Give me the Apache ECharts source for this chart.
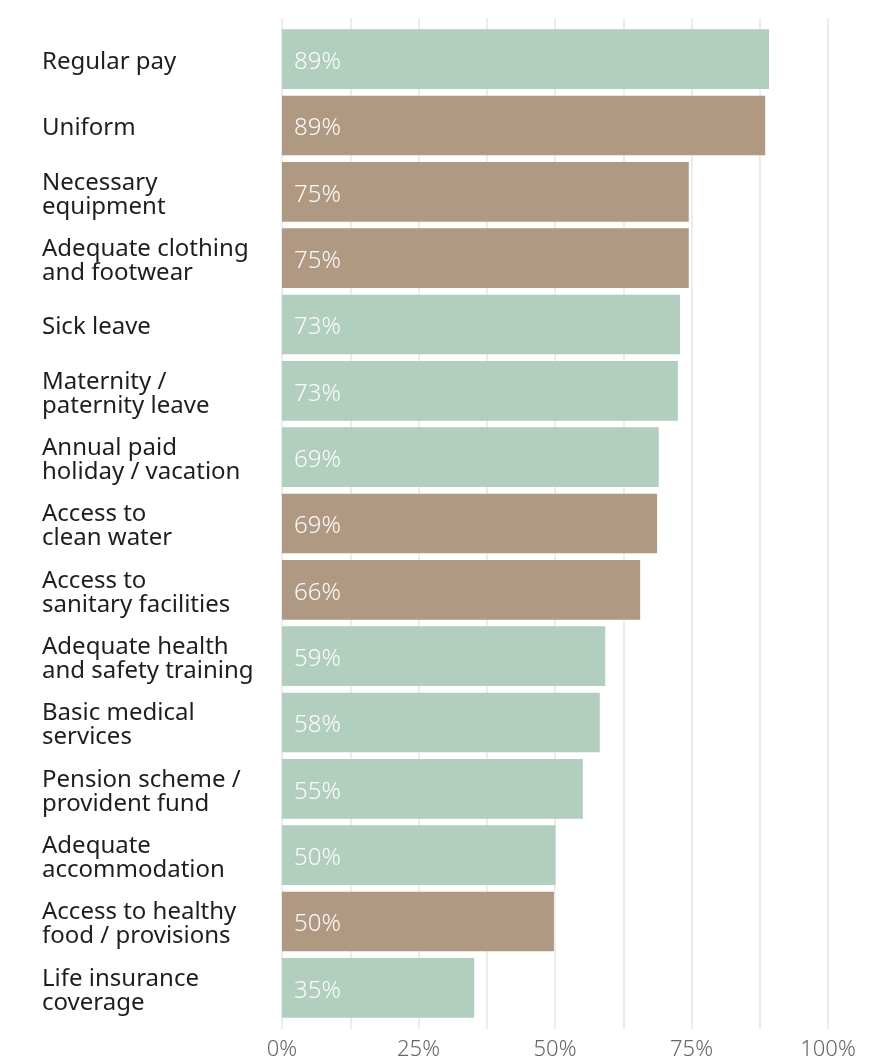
<!DOCTYPE html>
<html>
<head>
<meta charset="utf-8">
<script src="https://cdn.jsdelivr.net/npm/echarts@6/dist/echarts.min.js"></script>
<style>html,body{margin:0;padding:0;background:#fff;}#c{width:882px;height:1063px;}</style>
</head>
<body>
<div id="c"></div>
<script>
const categories = [
  "Regular pay", "Uniform", "Necessary\nequipment", "Adequate clothing\nand footwear",
  "Sick leave", "Maternity /\npaternity leave", "Annual paid\nholiday / vacation",
  "Access to\nclean water", "Access to\nsanitary facilities", "Adequate health\nand safety training",
  "Basic medical\nservices", "Pension scheme /\nprovident fund", "Adequate\naccommodation",
  "Access to healthy\nfood / provisions", "Life insurance\ncoverage"
];
const values = [89.2, 88.5, 74.5, 74.5, 72.9, 72.5, 69.0, 68.7, 65.6, 59.2, 58.2, 55.1, 50.1, 49.8, 35.2];
const groups = ["A", "B", "B", "B", "A", "A", "A", "B", "B", "A", "A", "A", "A", "B", "A"];
const tickLabels = ["0%", "25%", "50%", "75%", "100%"];

const colors = { A: "#b2cebe", B: "#b09982" };
const FONT = "Noto Sans";

const chart = echarts.init(document.getElementById("c"), null, { renderer: "canvas" });
chart.setOption({
  backgroundColor: "#fff",
  animation: false,
  textStyle: { fontFamily: FONT },
  grid: [
    { left: 282, right: 54, top: 26, bottom: 42 },
    { left: 282, right: 54, top: 18, bottom: 34 }
  ],
  xAxis: [
    {
      gridIndex: 0, type: "value", min: 0, max: 100, interval: 12.5,
      axisLine: { show: false }, axisTick: { show: false },
      axisLabel: { show: false }, splitLine: { show: false }
    },
    {
      gridIndex: 1, type: "value", min: 0, max: 100, interval: 12.5,
      axisLine: { show: false }, axisTick: { show: false },
      splitLine: { show: true, lineStyle: { color: "#ececec", width: 2 } },
      axisLabel: {
        margin: 10, color: "#666", fontSize: 22, fontWeight: 300, fontFamily: FONT,
        formatter: v => (v % 25 === 0 ? tickLabels[v / 25] : "")
      }
    }
  ],
  yAxis: [
    {
      gridIndex: 0, type: "category", inverse: true, data: categories,
      axisLine: { show: false }, axisTick: { show: false }, splitLine: { show: false },
      axisLabel: {
        align: "left", margin: 240, fontFamily: FONT,
        formatter: v => "{t|" + v.split("\n").join("}\n{t|") + "}",
        rich: {
          t: { color: "#1e1e1e", fontSize: 24, lineHeight: 24, fontFamily: FONT, padding: [6, 0, 0, 0] }
        }
      }
    },
    {
      gridIndex: 1, type: "value", min: 0, max: 1, show: false
    }
  ],
  series: [
    {
      type: "bar",
      xAxisIndex: 0, yAxisIndex: 0,
      barCategoryGap: "10%",
      data: values.map((v, i) => ({ value: v, itemStyle: { color: colors[groups[i]] } })),
      label: {
        show: true, position: "insideLeft", distance: 12, offset: [0, 3],
        color: "rgba(255,255,255,0.95)", fontSize: 24, fontWeight: 300, fontFamily: FONT,
        formatter: p => Math.round(p.value) + "%"
      }
    }
  ]
});
</script>
</body>
</html>
